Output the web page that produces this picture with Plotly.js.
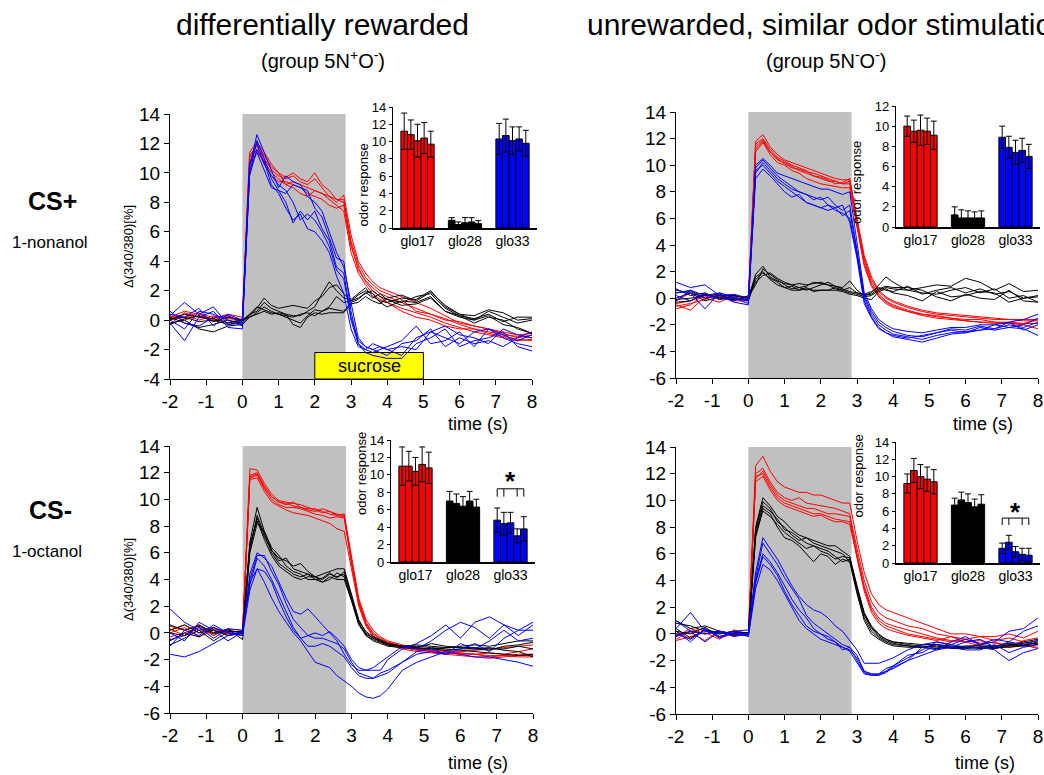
<!DOCTYPE html>
<html><head><meta charset="utf-8">
<script src="https://cdn.plot.ly/plotly-3.0.1.min.js"></script>
<style>html,body{margin:0;padding:0;background:#fff;}#chart{width:1044px;height:775px;}</style>
</head><body><div id="chart"></div>
<script>
// ---------------- DATA ----------------
const TIME = [-2,-1.6,-1.2,-0.8,-0.4,0, 0.2,0.4,0.6,0.8,1.0,1.2,1.4,1.6,1.8,2.0,2.2,2.4,2.6,2.8, 3.0,3.2,3.4,3.6,3.8,4.0, 4.4,4.8,5.2,5.6,6.0,6.4,6.8,7.2,7.6,8.0];
const STIM_WINDOW = [0, 2.85];
const SUCROSE_WINDOW = [2, 5];
const GLOMERULI = ['glo17','glo28','glo33'];
const X_TICKS = [-2,-1,0,1,2,3,4,5,6,7,8];
const Y_TICKS_TOPLEFT = [-4,-2,0,2,4,6,8,10,12,14];
const Y_TICKS = [-6,-4,-2,0,2,4,6,8,10,12,14];

// Panel A: CS+ 1-nonanol, differentially rewarded
const A_RED = [
 [0.2,0.6,0.4,0.2,0.1,0.0, 11.2,11.8,11.0,10.2,9.8,9.6,9.8,9.4,9.2,9.6,9.0,8.4,8.0,8.5, 5.8,4.0,3.2,2.6,2.2,2.0, 1.6,1.2,0.8,0.3,-0.2,-0.4,-0.6,-0.9,-1.2,-1.0],
 [-0.3,0.5,0.2,0.0,0.3,-0.1, 11.0,12.0,11.2,10.4,10.0,9.7,10.0,9.6,9.4,10.0,9.2,8.8,8.2,8.2, 5.2,3.4,2.7,2.2,1.8,1.6, 1.2,0.8,0.4,0.1,-0.3,-0.6,-0.8,-1.0,-1.1,-1.2],
 [0.0,0.2,0.5,-0.1,0.2,0.0, 10.8,11.6,10.6,9.8,9.4,9.4,9.2,9.0,8.6,8.4,8.2,7.8,7.6,7.8, 5.0,3.6,2.6,2.0,1.6,1.2, 0.8,0.5,0.2,-0.2,-0.5,-0.8,-1.0,-1.2,-1.4,-1.3],
 [0.1,0.4,0.0,0.3,-0.2,0.1, 11.4,12.1,11.4,10.6,10.0,9.2,9.0,8.6,8.4,8.8,8.6,8.2,7.8,7.4, 4.6,3.2,2.4,1.8,1.4,1.2, 0.6,0.2,0.0,-0.4,-0.6,-0.6,-0.9,-1.1,-1.3,-1.4],
 [0.3,0.0,0.3,0.1,0.4,0.2, 10.6,11.4,10.8,10.0,9.6,9.2,9.4,9.2,9.0,8.8,8.6,8.4,8.2,8.0, 5.4,3.8,2.9,2.4,2.0,1.8, 1.4,0.6,0.4,0.0,-0.1,-0.4,-0.6,-0.8,-1.0,-0.9]
];
const A_BLACK = [
 [0.2,-0.2,-0.5,-0.3,0.0,-0.2, 0.3,0.8,1.5,1.0,0.8,0.9,1.0,0.9,0.8,1.3,1.6,2.2,2.4,1.8, 1.3,1.5,1.8,2.0,1.6,1.4, 1.2,1.6,1.8,0.8,0.3,0.1,0.4,-0.1,0.2,0.2],
 [0.0,0.4,0.2,0.1,-0.2,0.0, 0.4,0.6,1.2,0.8,0.6,0.4,0.3,0.3,0.6,0.9,1.8,2.6,2.0,1.5, 1.4,1.8,2.2,1.6,1.3,1.2, 1.5,1.4,2.0,0.9,0.4,0.0,0.6,0.2,-0.2,0.0],
 [-0.2,0.0,-0.6,-0.8,-0.4,-0.3, 0.2,0.5,0.9,0.6,0.4,0.2,0.0,-0.2,0.3,0.7,0.6,0.9,1.6,1.2, 1.3,1.7,2.0,1.8,1.2,0.9, 1.3,1.2,1.6,0.6,0.2,0.0,0.3,-0.3,-0.5,-0.9],
 [0.1,0.2,-0.1,0.0,-0.3,-0.1, 0.4,0.9,0.7,0.5,0.4,0.3,0.2,0.4,0.5,0.3,0.6,0.8,0.7,0.6, 1.2,1.4,1.9,1.5,1.8,1.4, 1.0,1.1,1.5,0.6,0.3,-0.2,0.2,0.0,-0.6,-0.9],
 [-0.3,0.1,0.3,-0.1,0.2,0.0, 0.2,0.4,0.6,0.4,0.5,0.4,-0.3,-0.5,0.2,0.5,0.4,0.5,0.5,0.5, 1.1,1.2,1.6,1.3,1.1,1.5, 1.7,1.3,1.9,1.0,0.4,0.3,0.7,0.5,0.0,0.1]
];
const A_BLUE = [
 [0.3,1.2,0.4,0.9,-0.3,-0.2, 10.4,12.6,11.4,10.2,9.0,9.8,9.4,9.2,8.4,8.0,7.4,6.0,4.6,3.6, 1.2,-1.2,-1.8,-2.0,-1.8,-2.0, -2.4,-1.2,-0.8,-1.2,-1.6,-0.8,-0.6,-1.0,-1.4,-1.0],
 [0.0,-0.6,0.6,0.4,0.0,-0.4, 10.0,12.2,11.0,9.6,8.8,8.6,9.2,9.0,8.8,7.6,7.0,5.6,4.2,4.0, 0.6,-1.6,-2.2,-2.4,-2.5,-2.6, -2.6,-1.6,-1.2,-0.6,-1.8,-1.4,-1.2,-0.8,-1.8,-2.1],
 [-0.2,-1.4,0.2,0.6,-0.5,-0.6, 10.2,11.4,10.2,9.0,8.8,8.0,6.6,7.4,6.8,7.4,6.2,5.4,3.6,3.2, 0.2,-1.4,-1.8,-2.0,-2.2,-2.4, -1.6,-1.4,-0.6,-1.8,-1.2,-1.6,-1.4,-1.8,-1.2,-0.8],
 [0.6,-0.2,-0.4,0.2,0.3,-0.2, 9.8,11.6,10.8,9.2,8.6,7.6,6.8,7.2,6.2,6.0,5.4,4.6,3.0,1.8, -0.6,-1.8,-2.0,-2.2,-2.0,-1.8, -1.4,-0.4,-1.6,-1.4,-0.8,-1.8,-0.6,-1.2,-1.6,-1.8],
 [0.4,0.2,0.8,-0.4,0.4,0.0, 10.6,12.0,10.6,9.8,9.2,8.8,8.0,6.8,7.2,6.8,6.0,5.0,3.4,2.8, 0.0,-1.6,-2.0,-1.6,-1.8,-2.0, -1.8,-2.0,-0.8,-0.4,-1.0,-1.2,-1.6,-0.6,-1.0,-1.2]
];

// Panel B: CS+ 1-nonanol, unrewarded
const B_RED = [
 [-0.4,-0.2,0.2,0.0,0.1,0.1, 11.8,12.3,11.4,10.8,10.4,10.2,10.0,9.8,9.6,9.4,9.2,9.0,8.9,8.9, 6.0,3.2,1.6,0.6,0.1,-0.2, -0.6,-0.9,-1.1,-1.2,-1.3,-1.4,-1.5,-1.6,-1.6,-1.6],
 [-0.6,-0.4,-0.1,0.3,0.0,0.0, 11.4,11.9,11.0,10.4,10.2,9.9,9.6,9.4,9.2,9.0,8.8,8.8,8.6,8.6, 5.6,2.8,1.2,0.3,-0.2,-0.5, -0.9,-1.2,-1.4,-1.5,-1.7,-1.8,-1.9,-1.9,-2.0,-2.3],
 [-0.8,-0.5,0.3,0.1,-0.2,-0.2, 11.0,11.7,10.8,10.2,10.0,9.6,9.4,9.0,8.8,8.6,8.5,8.4,8.3,8.3, 5.2,2.4,0.9,0.1,-0.4,-0.7, -1.0,-1.3,-1.5,-1.6,-1.7,-1.8,-1.8,-1.9,-1.9,-1.9],
 [-0.2,0.4,0.0,-0.3,0.2,0.0, 11.6,12.0,11.2,10.6,10.3,10.0,9.8,9.6,9.2,9.1,8.9,8.6,8.7,9.0, 5.8,3.0,1.4,0.5,0.0,-0.3, -0.7,-1.0,-1.2,-1.3,-1.4,-1.5,-1.6,-1.6,-1.7,-1.7],
 [-0.5,-0.9,0.1,0.2,0.0,-0.1, 11.2,11.8,11.0,10.5,10.1,9.8,9.7,9.5,9.4,9.2,9.0,8.8,8.6,8.8, 5.4,2.6,1.0,0.2,-0.3,-0.6, -1.0,-1.2,-1.3,-1.5,-1.6,-1.6,-1.8,-1.8,-1.9,-1.6]
];
const B_BLACK = [
 [0.4,0.6,0.0,0.2,0.2,0.0, 1.8,2.4,1.6,1.3,1.1,1.0,1.1,1.0,1.1,1.2,1.0,0.9,0.8,1.3, 0.6,0.2,0.4,1.0,1.6,1.2, 0.6,0.8,1.0,0.9,1.5,1.2,0.6,1.1,0.5,0.6],
 [-0.3,-0.2,0.3,0.0,-0.1,0.1, 1.0,2.2,1.8,1.4,1.0,0.7,0.8,0.6,0.8,1.0,1.2,0.9,0.7,0.5, 0.4,0.3,0.5,0.8,0.6,0.5, 0.9,0.3,0.6,0.8,0.4,0.7,0.3,0.5,0.0,0.2],
 [0.0,0.4,-0.2,0.1,0.0,-0.2, 1.4,1.9,1.5,1.2,0.8,0.9,0.6,0.8,0.5,0.6,0.6,0.8,0.6,0.4, 0.3,0.1,0.2,0.6,0.8,0.7, 0.6,0.4,0.3,0.6,0.8,0.4,0.7,0.0,0.2,-0.3],
 [0.7,0.2,0.4,-0.1,0.2,0.0, 1.6,2.0,1.4,1.0,0.8,0.6,0.6,0.7,0.6,0.6,0.6,0.6,0.5,0.3, 0.2,0.0,-0.1,0.5,0.7,0.4, 0.2,-0.2,0.5,0.1,0.2,0.5,0.4,-0.3,0.0,0.1],
 [-0.1,0.0,0.2,0.3,-0.2,0.2, 1.2,1.7,1.9,1.5,1.2,1.0,0.8,0.9,1.2,1.1,1.0,0.7,0.6,0.8, 0.4,0.2,0.3,0.7,0.9,0.8, 0.8,0.6,0.1,-0.2,0.3,0.0,-0.1,0.6,-0.2,-0.3]
];
const B_BLUE = [
 [1.2,0.8,1.0,0.2,0.3,0.0, 10.0,10.5,10.0,9.4,9.2,9.0,8.8,8.6,8.4,8.2,8.2,8.0,7.8,8.0, 4.0,0.4,-0.8,-1.6,-2.0,-2.3, -2.5,-2.6,-2.4,-2.2,-2.2,-2.0,-2.0,-1.8,-1.6,-1.2],
 [0.6,0.4,-0.8,0.4,0.1,-0.2, 9.4,10.2,9.6,9.0,8.6,8.2,8.0,7.8,7.6,7.4,7.6,7.0,6.6,7.0, 3.6,0.0,-1.2,-2.0,-2.4,-2.7, -2.9,-3.1,-2.8,-2.6,-2.5,-2.4,-2.0,-2.2,-2.3,-2.8],
 [0.2,-0.2,0.4,-0.1,0.0,-0.4, 9.0,9.7,9.2,8.6,8.0,7.6,7.8,7.2,7.0,6.8,7.0,6.6,6.4,6.0, 3.2,-0.2,-1.4,-2.2,-2.6,-2.9, -3.1,-3.3,-3.0,-2.7,-2.6,-2.4,-2.3,-2.0,-2.2,-1.8],
 [0.4,0.5,0.0,0.2,-0.3,-0.5, 9.8,10.4,9.8,9.2,8.8,8.4,8.0,7.8,7.4,7.6,7.0,6.8,7.0,5.7, 3.0,-0.4,-1.5,-2.3,-2.6,-2.8, -3.0,-2.8,-2.6,-2.4,-2.6,-2.2,-2.4,-2.2,-2.0,-1.5],
 [-0.2,0.6,0.2,0.4,0.0,-0.1, 9.6,10.0,9.4,8.8,8.4,8.0,7.6,7.2,7.0,6.8,6.6,6.8,6.2,6.6, 3.4,0.2,-1.0,-1.8,-2.2,-2.5, -2.8,-2.9,-2.6,-2.3,-2.4,-2.1,-2.3,-1.8,-2.4,-2.0]
];

// Panel C: CS- 1-octanol, differentially rewarded
const C_RED = [
 [0.5,0.2,0.6,0.0,0.1,0.1, 12.3,12.2,11.2,10.4,9.9,9.8,9.7,9.6,9.4,9.2,9.0,9.1,8.8,8.9, 5.6,2.6,1.0,0.2,-0.3,-0.6, -0.9,-1.1,-1.3,-1.4,-1.5,-1.6,-1.7,-1.7,-1.8,-1.8],
 [0.2,0.6,0.0,0.4,-0.2,0.0, 11.8,12.0,11.0,10.2,9.8,9.6,9.8,9.4,9.3,9.3,9.1,8.9,8.8,8.7, 5.4,2.4,0.8,0.0,-0.4,-0.7, -1.0,-1.2,-1.4,-1.5,-1.6,-1.6,-1.5,-1.6,-1.4,-1.2],
 [-0.3,0.0,0.4,-0.2,0.3,0.2, 11.6,11.8,10.8,10.0,9.6,9.4,9.4,9.3,9.1,8.9,8.8,8.6,8.7,8.6, 5.2,2.2,0.6,-0.2,-0.6,-0.8, -1.1,-1.3,-1.4,-1.5,-1.5,-1.6,-1.8,-1.7,-1.6,-1.6],
 [0.0,0.4,-0.3,0.2,0.0,-0.1, 11.7,11.9,10.9,10.2,9.8,9.7,9.5,9.4,9.2,9.1,9.3,9.1,8.9,8.8, 5.3,2.3,0.7,-0.1,-0.5,-0.7, -1.0,-1.2,-1.3,-1.3,-1.4,-1.3,-1.2,-1.1,-1.0,-0.9],
 [0.3,-0.2,0.2,0.3,-0.1,0.0, 11.5,11.6,10.6,9.8,9.5,9.2,9.0,8.9,8.8,8.6,8.4,8.2,7.8,7.6, 4.8,2.0,0.5,-0.3,-0.7,-0.9, -1.2,-1.4,-1.5,-1.6,-1.7,-1.8,-1.9,-1.8,-1.7,-1.7]
];
const C_BLACK = [
 [0.6,0.2,0.5,-0.1,0.2,0.0, 6.8,9.4,7.6,6.2,5.6,5.4,5.0,5.2,4.6,4.2,4.4,4.6,4.8,4.8, 2.8,1.0,0.0,-0.4,-0.6,-0.8, -1.0,-1.1,-1.2,-1.3,-1.2,-1.2,-1.1,-1.3,-1.4,-1.8],
 [-0.6,0.0,-0.3,0.4,0.0,-0.2, 6.2,8.8,7.4,6.0,5.2,4.8,4.4,4.2,4.4,4.2,4.0,4.4,4.2,4.4, 2.6,0.8,-0.2,-0.6,-0.8,-1.0, -1.1,-1.2,-1.2,-1.1,-1.0,-0.9,-1.0,-0.8,-0.6,-0.6],
 [-0.9,-0.4,0.2,-0.6,0.1,0.1, 6.4,8.6,7.2,6.2,5.4,5.6,4.8,4.6,4.4,4.0,3.8,4.2,4.0,4.0, 2.4,0.6,-0.2,-0.5,-0.7,-0.9, -1.0,-1.0,-1.1,-1.2,-1.3,-1.4,-1.5,-1.6,-1.7,-1.6],
 [0.2,0.6,0.0,0.2,-0.2,0.0, 6.6,8.4,7.0,5.8,5.0,4.6,4.2,4.0,4.2,4.2,3.8,4.0,4.5,4.2, 2.5,0.7,-0.1,-0.4,-0.6,-0.9, -1.0,-1.1,-0.8,-1.0,-1.1,-1.2,-1.3,-1.0,-0.9,-0.7],
 [0.0,-0.2,0.6,0.0,0.3,-0.5, 6.0,8.2,7.6,6.4,5.8,5.0,4.6,4.4,4.0,4.0,4.1,4.5,4.1,4.6, 2.7,0.9,0.1,-0.3,-0.5,-0.8, -1.0,-0.9,-1.0,-1.1,-1.1,-1.1,-1.2,-1.2,-1.0,-1.2]
];
const C_BLUE = [
 [1.8,0.8,0.2,0.4,0.0,0.0, 4.4,6.0,5.6,5.0,3.8,2.6,1.6,1.4,1.8,1.2,0.6,0.0,-0.6,-1.6, -2.4,-2.8,-2.8,-2.6,-2.2,-1.8, -1.0,-1.2,-0.6,0.2,0.8,0.4,-0.4,0.6,0.2,0.8],
 [0.0,-0.6,0.8,0.2,-0.6,0.1, 4.0,5.8,5.8,4.6,3.6,2.2,1.0,0.4,-0.2,0.0,-0.2,0.1,-0.4,-1.0, -2.0,-2.6,-2.8,-2.8,-2.8,-2.0, -1.2,-0.8,-0.2,0.6,-0.4,0.8,1.2,0.6,-0.2,0.6],
 [-0.5,-0.2,0.4,-0.4,0.3,0.2, 3.6,5.6,5.0,4.0,2.8,1.6,0.4,-0.4,-0.2,-0.4,-0.4,-0.6,-0.8,-1.2, -2.2,-3.0,-3.2,-3.4,-3.0,-2.8, -2.2,-1.4,-1.2,-1.6,-0.8,-1.2,-0.6,0.2,-0.6,-0.4],
 [-1.0,0.2,-0.2,0.6,0.0,-0.2, 3.2,4.8,4.6,3.8,2.4,1.2,0.2,-0.4,-1.0,-1.0,-0.8,-1.0,-1.4,-1.8, -2.6,-3.2,-3.4,-3.4,-3.2,-3.0, -2.2,-1.6,-1.4,-1.6,-1.2,-0.8,-1.4,-0.4,0.2,0.2],
 [-1.6,-1.8,-1.4,-0.8,-0.2,0.0, 3.8,4.8,3.8,2.6,1.6,0.8,0.0,-0.6,-1.4,-2.2,-2.4,-2.6,-3.2,-3.6, -4.0,-4.5,-4.8,-4.9,-4.7,-4.2, -2.8,-2.2,-1.8,-1.4,-1.6,-1.8,-1.8,-2.0,-2.2,-2.5]
];

// Panel D: CS- 1-octanol, unrewarded
const D_RED = [
 [-0.2,0.4,0.0,0.2,-0.2,0.1, 12.6,13.3,12.2,11.4,11.0,10.8,10.6,10.6,10.4,10.4,10.2,10.0,9.8,9.8, 7.0,4.6,3.0,2.2,1.8,1.6, 1.2,0.8,0.4,0.0,0.0,-0.2,-0.2,0.0,-0.3,0.2],
 [-0.4,0.2,0.4,-0.3,0.0,0.0, 12.0,12.4,11.4,10.6,10.2,10.0,10.2,9.8,9.7,9.6,9.5,9.4,9.2,9.0, 6.4,4.0,2.4,1.6,1.2,1.0, 0.6,0.4,0.0,-0.2,-0.4,-0.2,-0.5,-0.3,-0.6,-0.8],
 [0.2,-0.4,0.3,0.0,0.2,-0.1, 11.6,12.2,11.2,10.4,10.0,9.8,9.6,9.4,9.4,9.2,9.0,9.0,8.9,8.8, 6.0,3.6,2.0,1.2,0.8,0.6, 0.3,0.0,-0.3,-0.5,-0.6,-0.5,-0.7,-0.8,-0.9,-1.0],
 [0.0,0.1,-0.5,0.2,-0.1,0.0, 11.8,12.0,11.0,10.2,9.8,9.6,9.4,9.2,9.0,9.0,8.8,8.6,8.5,8.4, 5.8,3.4,1.8,1.0,0.6,0.4, 0.0,-0.2,-0.4,-0.6,-0.4,-0.7,-0.6,-1.0,-0.8,-1.1],
 [-0.5,-0.2,0.1,-0.4,0.3,0.0, 11.4,11.8,10.8,10.0,9.6,9.4,9.2,9.0,8.8,8.9,8.6,8.4,8.4,8.2, 5.6,3.2,1.6,0.8,0.4,0.2, -0.1,-0.3,-0.5,-0.2,-0.6,-0.9,-1.1,-0.9,-0.5,-0.3]
];
const D_BLACK = [
 [1.0,0.4,0.6,0.2,0.0,-0.1, 8.0,10.2,9.6,8.8,8.4,7.8,7.4,7.2,7.0,6.8,6.6,6.6,6.2,5.8, 3.6,1.6,0.6,0.0,-0.4,-0.6, -0.8,-0.9,-1.0,-1.0,-1.0,-1.0,-0.9,-0.9,-0.8,-0.7],
 [0.8,0.6,0.2,0.0,0.2,0.0, 7.8,9.9,9.4,8.4,8.0,7.4,7.0,7.2,6.8,6.6,6.4,6.2,6.0,5.4, 3.4,1.4,0.4,-0.2,-0.5,-0.7, -0.9,-1.0,-0.8,-1.0,-0.9,-0.9,-1.0,-0.8,-0.7,-0.5],
 [0.2,0.0,0.5,-0.2,0.1,0.1, 7.6,9.6,9.2,8.6,7.8,7.6,7.2,6.8,6.6,6.4,6.2,5.8,5.4,5.6, 3.2,1.2,0.2,-0.3,-0.6,-0.8, -0.9,-1.0,-1.1,-1.0,-1.0,-1.1,-1.0,-1.0,-0.9,-0.6],
 [0.4,-0.3,0.3,0.1,-0.1,0.0, 7.4,9.2,8.8,8.2,7.6,7.2,6.8,6.4,6.6,6.2,6.0,5.6,5.8,5.7, 3.5,1.5,0.5,-0.1,-0.4,-0.6, -0.7,-0.8,-0.8,-0.9,-1.0,-0.8,-0.9,-0.7,-0.9,-0.8],
 [-0.1,0.2,0.0,0.2,0.0,-0.1, 7.2,9.4,9.0,8.0,7.2,7.0,6.6,6.0,5.4,6.0,5.8,5.2,5.6,5.4, 3.0,1.0,0.0,-0.4,-0.7,-0.9, -1.0,-1.0,-0.9,-1.1,-1.1,-1.0,-1.1,-0.9,-0.6,-0.4]
];
const D_BLUE = [
 [0.4,1.6,0.2,0.0,0.2,0.3, 4.6,7.2,6.4,5.6,4.6,3.6,2.8,2.2,1.8,1.6,1.2,0.6,0.2,-0.5, -1.2,-2.2,-2.2,-2.2,-2.0,-1.8, -1.2,-0.8,-0.6,-0.8,-1.0,-1.0,-1.2,-2.0,-1.4,-1.1],
 [-0.2,0.2,-0.6,0.2,0.0,-0.1, 4.2,6.8,6.0,5.2,4.2,3.4,2.6,1.4,0.8,0.4,0.0,-0.4,-0.8,-1.0, -1.6,-2.8,-3.0,-3.1,-2.8,-2.4, -1.8,-1.2,-0.6,-0.8,-0.4,-0.8,-0.4,-0.6,0.2,0.6],
 [0.0,-0.4,0.3,-0.2,0.1,0.0, 4.0,6.0,5.4,4.6,3.6,2.6,1.8,1.2,0.4,0.0,-0.2,-0.6,-1.0,-1.2, -1.8,-2.8,-3.0,-3.0,-2.8,-2.6, -2.0,-1.0,-1.2,-0.6,-0.2,-0.8,-0.6,0.2,0.4,1.2],
 [1.0,0.2,0.0,0.2,-0.2,0.0, 3.8,5.8,5.2,4.4,3.2,2.2,1.4,0.6,0.2,0.0,-0.4,-0.6,-1.2,-1.0, -2.0,-2.9,-3.1,-3.0,-2.6,-2.4, -1.6,-1.4,-0.8,-1.0,-0.6,-0.4,-1.0,-0.6,-0.8,-0.5],
 [0.2,-0.6,0.4,-0.3,0.1,-0.2, 3.4,5.2,4.8,4.0,3.0,2.0,1.0,0.4,0.0,-0.4,-0.6,-0.8,-1.0,-1.3, -2.2,-3.0,-3.1,-3.1,-2.9,-2.5, -2.0,-1.6,-1.2,-1.0,-1.2,-1.2,-0.8,-1.4,-1.0,-0.8]
];

// Inset bar charts: odor response per animal (5 animals) and error
const A_GLO17 = [11.2,10.8,10.1,10.4,9.7];  const A_GLO17_ERR = [2.1,1.7,1.9,1.8,1.5];
const A_GLO28 = [0.9,0.4,0.6,0.7,0.5];      const A_GLO28_ERR = [0.3,0.3,0.6,0.5,0.35];
const A_GLO33 = [10.3,10.7,10.1,10.3,9.8];  const A_GLO33_ERR = [1.8,1.9,1.6,1.4,1.5];
const B_GLO17 = [10.0,9.5,9.6,9.5,9.1];     const B_GLO17_ERR = [1.0,1.1,1.5,1.3,1.4];
const B_GLO28 = [1.2,0.9,0.9,0.9,0.9];      const B_GLO28_ERR = [0.8,0.8,0.7,0.6,0.7];
const B_GLO33 = [8.9,7.9,7.4,7.6,7.0];      const B_GLO33_ERR = [1.1,1.1,1.2,1.2,1.2];
const C_GLO17 = [11.0,11.0,10.4,11.2,10.8]; const C_GLO17_ERR = [2.2,1.7,1.6,2.0,1.8];
const C_GLO28 = [7.0,6.7,6.4,7.0,6.3];      const C_GLO28_ERR = [1.1,1.1,1.1,1.1,0.9];
const C_GLO33 = [4.8,4.4,4.5,3.0,3.8];      const C_GLO33_ERR = [1.4,1.3,1.2,0.8,1.4];
const D_GLO17 = [9.2,10.7,10.0,9.7,9.4];    const D_GLO17_ERR = [1.1,1.4,1.4,1.4,1.4];
const D_GLO28 = [6.7,7.3,7.0,6.5,6.8];      const D_GLO28_ERR = [0.8,0.9,1.0,0.9,1.1];
const D_GLO33 = [1.7,2.4,1.3,1.0,0.9];      const D_GLO33_ERR = [0.6,0.8,0.6,0.7,0.8];

// ---------------- DRAWING ----------------
const W = 1044, H = 775;
const fx = p => p / W, fy = p => 1 - p / H;
const FONT = '"Liberation Sans", Arial, Helvetica, sans-serif';
const COL = {red: '#ff0000', black: '#000000', blue: '#0000ff'};

const traces = [];
const layout = {
  width: W, height: H, margin: {l: 0, r: 0, t: 0, b: 0},
  paper_bgcolor: '#ffffff', plot_bgcolor: 'rgba(0,0,0,0)',
  showlegend: false, hovermode: false,
  barmode: 'group', bargap: 0.3, bargroupgap: 0,
  font: {family: FONT, color: '#000'},
  shapes: [], annotations: []
};

const mainPanels = [
  {ax: '',  red: A_RED, black: A_BLACK, blue: A_BLUE, xd: [170, 532], yd: [114, 379], yt: Y_TICKS_TOPLEFT, sucrose: true},
  {ax: '2', red: B_RED, black: B_BLACK, blue: B_BLUE, xd: [676, 1038], yd: [112, 378], yt: Y_TICKS},
  {ax: '3', red: C_RED, black: C_BLACK, blue: C_BLUE, xd: [170, 533], yd: [446, 713], yt: Y_TICKS},
  {ax: '4', red: D_RED, black: D_BLACK, blue: D_BLUE, xd: [676, 1038], yd: [447, 714], yt: Y_TICKS}
];

mainPanels.forEach(p => {
  const xa = 'x' + p.ax, ya = 'y' + p.ax;
  const yr = [p.yt[0], p.yt[p.yt.length - 1]];
  ['red', 'black', 'blue'].forEach(c => {
    p[c].forEach(series => {
      traces.push({x: TIME, y: series, xaxis: xa, yaxis: ya, type: 'scatter', mode: 'lines',
        line: {color: COL[c], width: 1}, hoverinfo: 'skip'});
    });
  });
  const axCommon = {showline: true, linecolor: '#000', linewidth: 1, ticks: 'outside', ticklen: 5,
    tickwidth: 1, tickcolor: '#000', showgrid: false, zeroline: false, fixedrange: true,
    tickfont: {family: FONT, size: 19, color: '#000'}};
  layout['xaxis' + p.ax] = Object.assign({}, axCommon, {domain: [fx(p.xd[0]), fx(p.xd[1])], anchor: ya,
    range: [X_TICKS[0], X_TICKS[X_TICKS.length - 1]], tickmode: 'array', tickvals: X_TICKS,
    ticktext: X_TICKS.map(String)});
  layout['yaxis' + p.ax] = Object.assign({}, axCommon, {domain: [fy(p.yd[1]), fy(p.yd[0])], anchor: xa,
    range: yr, tickmode: 'array', tickvals: p.yt, ticktext: p.yt.map(String)});
  layout.shapes.push({type: 'rect', xref: xa, yref: ya, x0: STIM_WINDOW[0], x1: STIM_WINDOW[1],
    y0: yr[0], y1: yr[1], fillcolor: '#c0c0c0', line: {width: 0}, layer: 'below'});
  if (p.sucrose) {
    layout.shapes.push({type: 'rect', xref: xa, yref: ya, x0: SUCROSE_WINDOW[0], x1: SUCROSE_WINDOW[1],
      y0: yr[0], y1: -2.2, fillcolor: '#ffff00', line: {color: '#000', width: 1}, layer: 'below'});
    layout.annotations.push({xref: xa, yref: ya, x: (SUCROSE_WINDOW[0] + SUCROSE_WINDOW[1]) / 2, y: -3.1,
      text: 'sucrose', showarrow: false, font: {family: FONT, size: 18, color: '#000'}});
  }
});

const insets = [
  {n: 5, g: [A_GLO17, A_GLO28, A_GLO33], e: [A_GLO17_ERR, A_GLO28_ERR, A_GLO33_ERR], xl: 392.8, yd: [107, 228], ymax: 14, lab: [363, 142]},
  {n: 6, g: [B_GLO17, B_GLO28, B_GLO33], e: [B_GLO17_ERR, B_GLO28_ERR, B_GLO33_ERR], xl: 895.8, yd: [106, 227], ymax: 12, lab: [866, 139]},
  {n: 7, g: [C_GLO17, C_GLO28, C_GLO33], e: [C_GLO17_ERR, C_GLO28_ERR, C_GLO33_ERR], xl: 390.8, yd: [440, 562], ymax: 14, lab: [362, 474], star: {y: 8.4, drop: 7.5, sy: 7.3}},
  {n: 8, g: [D_GLO17, D_GLO28, D_GLO33], e: [D_GLO17_ERR, D_GLO28_ERR, D_GLO33_ERR], xl: 895.8, yd: [442, 563], ymax: 14, lab: [868, 476], star: {y: 5.2, drop: 4.4, sy: 3.9}}
];
const BAR_COLORS = [COL.red, COL.black, COL.blue];
const CAT_RANGE = [-0.52, 2.52];
const CAT_PX = 47.5;

insets.forEach(s => {
  const xa = 'x' + s.n, ya = 'y' + s.n;
  const nAnimals = s.g[0].length;
  for (let j = 0; j < nAnimals; j++) {
    traces.push({type: 'bar', x: GLOMERULI, y: s.g.map(a => a[j]), xaxis: xa, yaxis: ya,
      marker: {color: BAR_COLORS, line: {color: '#000', width: 1}},
      error_y: {type: 'data', array: s.e.map(a => a[j]), visible: true, color: '#000', thickness: 1, width: 3},
      hoverinfo: 'skip'});
  }
  const xr = s.xl + (CAT_RANGE[1] - CAT_RANGE[0]) * CAT_PX;
  layout['xaxis' + s.n] = {domain: [fx(s.xl), fx(xr)], anchor: ya, type: 'category', range: CAT_RANGE,
    showline: true, linecolor: '#000', linewidth: 1.5, ticks: '', showgrid: false, zeroline: false, fixedrange: true,
    tickfont: {family: FONT, size: 14, color: '#000'}};
  layout['yaxis' + s.n] = {domain: [fy(s.yd[1]), fy(s.yd[0])], anchor: xa, range: [0, s.ymax], dtick: 2, tick0: 0,
    showline: true, linecolor: '#000', linewidth: 1, ticks: 'outside', ticklen: 3, tickcolor: '#000',
    showgrid: false, zeroline: false, fixedrange: true, tickfont: {family: FONT, size: 13, color: '#000'}};
  layout.annotations.push({xref: 'paper', yref: 'paper', x: fx(s.lab[0]), y: fy(s.lab[1]), text: 'odor response',
    textangle: -90, showarrow: false, font: {family: FONT, size: 13, color: '#000'}});
  if (s.star) {
    const groupW = 1 - layout.bargap, barW = groupW / nAnimals;
    const c = k => 2 - groupW / 2 + barW * (k + 0.5);
    layout.shapes.push({type: 'line', xref: xa, yref: ya, x0: c(0), x1: c(nAnimals - 1), y0: s.star.y, y1: s.star.y, line: {color: '#000', width: 1}});
    [0, 1, nAnimals - 2, nAnimals - 1].forEach(k => {
      layout.shapes.push({type: 'line', xref: xa, yref: ya, x0: c(k), x1: c(k), y0: s.star.y, y1: s.star.drop, line: {color: '#000', width: 1}});
    });
    layout.annotations.push({xref: xa, yref: ya, x: 2, y: s.star.sy, text: '<b>*</b>', showarrow: false,
      yanchor: 'bottom', font: {family: FONT, size: 26, color: '#000'}});
  }
});

const ann = (x, y, text, size, extra) => Object.assign({xref: 'paper', yref: 'paper', x: fx(x), y: fy(y), text: text,
  showarrow: false, xanchor: 'center', yanchor: 'middle', font: {family: FONT, size: size, color: '#000'}}, extra || {});

layout.annotations.push(
  ann(322, 24, 'differentially rewarded', 30),
  ann(323, 59, '(group 5N<sup>+</sup>O<sup>-</sup>)', 20),
  ann(585, 24, 'unrewarded, similar odor stimulation', 30, {xanchor: 'left'}),
  ann(826, 59, '(group 5N<sup>-</sup>O<sup>-</sup>)', 20),
  ann(52, 201, '<b>CS+</b>', 25),
  ann(50, 242, '1-nonanol', 17),
  ann(50, 510, '<b>CS-</b>', 25),
  ann(47, 551, '1-octanol', 17),
  ann(128, 247, 'Δ(340/380)[%]', 13, {textangle: -90}),
  ann(128, 580, 'Δ(340/380)[%]', 13, {textangle: -90}),
  ann(478, 424, 'time (s)', 18),
  ann(983, 424, 'time (s)', 18),
  ann(478, 763, 'time (s)', 18),
  ann(985, 763, 'time (s)', 18)
);

Plotly.newPlot('chart', traces, layout, {displayModeBar: false, staticPlot: true});
</script>
</body></html>
